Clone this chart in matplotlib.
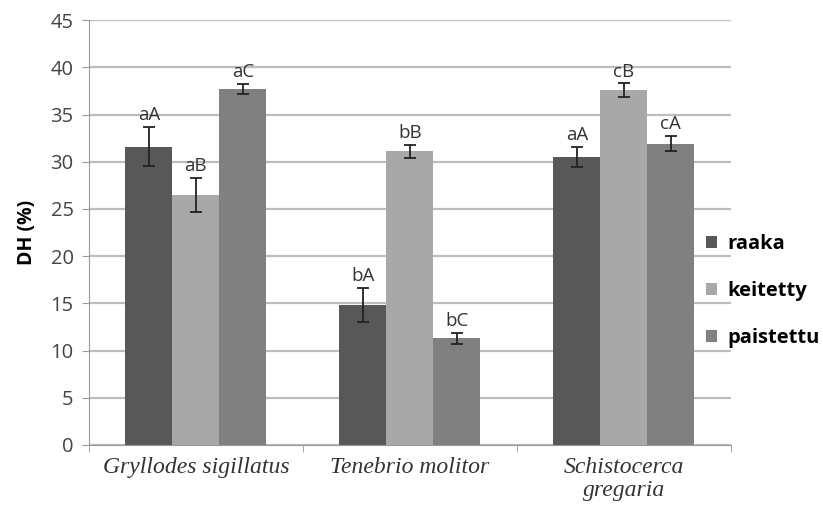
import numpy as np
import matplotlib.pyplot as plt

# data
lajit = ['Gryllodes sigillatus', 'Tenebrio molitor', 'Schistocerca\ngregaria']
sarjat = ['raaka', 'keitetty', 'paistettu']
raaka = [31.6, 14.8, 30.5]
keitetty = [26.5, 31.1, 37.6]
paistettu = [37.7, 11.3, 31.9]
raaka_err = [2.1, 1.8, 1.1]
keitetty_err = [1.8, 0.7, 0.7]
paistettu_err = [0.5, 0.6, 0.8]
raaka_lab = ['aA', 'bA', 'aA']
keitetty_lab = ['aB', 'bB', 'cB']
paistettu_lab = ['aC', 'bC', 'cA']

arvot = [raaka, keitetty, paistettu]
virheet = [raaka_err, keitetty_err, paistettu_err]
kirjaimet = [raaka_lab, keitetty_lab, paistettu_lab]
varit = ['#585858', '#a8a8a8', '#808080']

fig = plt.figure(figsize=(8.23, 5.15), dpi=100)
ax = fig.add_axes([0.108, 0.136, 0.78, 0.825])

x = np.arange(len(lajit))
w = 0.22
for i in range(3):
    pos = x + (i - 1) * w
    ax.bar(pos, arvot[i], w, color=varit[i], label=sarjat[i], zorder=2)
    ax.errorbar(pos, arvot[i], yerr=virheet[i], fmt='none', ecolor='#222222',
                elinewidth=1.3, capsize=4, capthick=1.3, zorder=3)
    for p, v, e, t in zip(pos, arvot[i], virheet[i], kirjaimet[i]):
        ax.text(p, v + e + 0.3, t, ha='center', va='bottom', fontsize=13.5,
                family='Open Sans', color='#333333')

ax.set_xlim(-0.5, 2.5)
ax.set_ylim(0, 45)
ax.set_yticks(np.arange(0, 46, 5))
ax.yaxis.grid(True, color='#bdbdbd', linewidth=1.6, zorder=0)
ax.set_axisbelow(True)

ax.set_xticks(x)
ax.set_xticklabels(lajit, fontsize=17, family='Liberation Serif', style='italic',
                   color='#333333', linespacing=1.1)
ax.tick_params(axis='x', length=0, pad=9)
ax.set_xticks([-0.5, 0.5, 1.5, 2.5], minor=True)
ax.tick_params(axis='x', which='minor', length=5, color='#999999')
ax.tick_params(axis='y', length=5, color='#999999', labelsize=14.5, labelcolor='#444444',
               pad=6)
for lab in ax.get_yticklabels():
    lab.set_family('Open Sans')

for s in ['top', 'right']:
    ax.spines[s].set_visible(False)
ax.spines['left'].set_color('#999999')
ax.spines['bottom'].set_color('#999999')

ax.set_ylabel('DH (%)', fontsize=14, fontweight='bold', family='Open Sans', labelpad=10)

leg = fig.legend(loc='center left', bbox_to_anchor=(0.836, 0.435), frameon=False,
                 prop={'family': 'Open Sans', 'weight': 'bold', 'size': 14.5},
                 handlelength=0.55, handleheight=0.55, handletextpad=0.5, labelspacing=1.35)

fig.savefig('out.png', dpi=100)
